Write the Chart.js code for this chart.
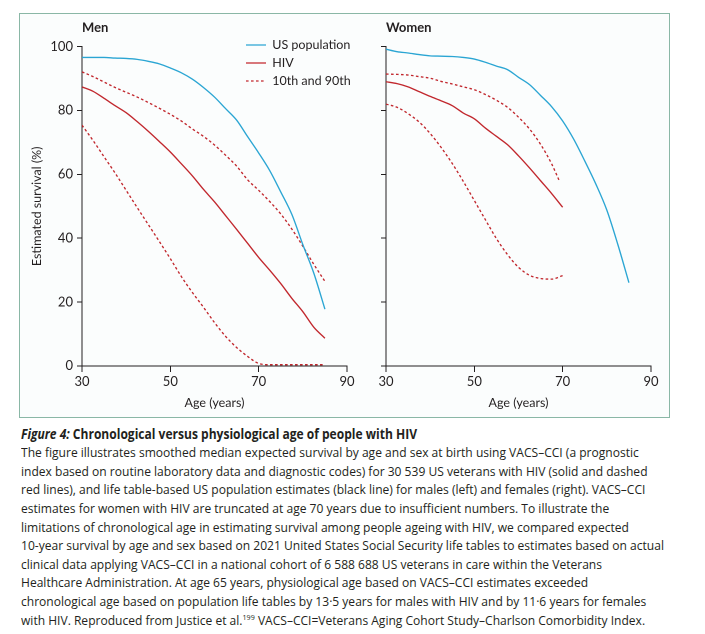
<!DOCTYPE html>
<html><head><meta charset="utf-8">
<script src="https://cdn.jsdelivr.net/npm/chart.js@4.4.1/dist/chart.umd.min.js"></script>
<style>
body{margin:0;background:#fff;width:705px;height:634px;overflow:hidden;position:relative;font-family:Lato,sans-serif;color:#231f20}
#box{position:absolute;left:19px;top:13px;width:651px;height:405px;border:1px solid #8ab7a6;background:#fbfdfd;box-sizing:border-box}
.pan{position:absolute;top:0;width:365px;height:416px}
#cap{position:absolute;left:21px;top:424.7px;font-size:13.5px;font-family:'Open Sans',sans-serif}
.ln{white-space:nowrap;height:18.6px;line-height:18.6px;transform-origin:0 50%}
.ln span{display:inline-block}
.t{font-weight:bold}
sup{font-size:8px;line-height:0;vertical-align:5px}
</style></head>
<body>
<div id="box"></div>
<div class="pan" style="left:0"><canvas id="men" width="365" height="416"></canvas></div>
<div class="pan" style="left:304px"><canvas id="women" width="365" height="416"></canvas></div>
<div id="cap">
<div class="ln t" id="lt"><span><i>Figure 4:</i> Chronological versus physiological age of people with HIV</span></div>
<div class="ln"><span>The figure illustrates smoothed median expected survival by age and sex at birth using VACS–CCI (a prognostic</span></div>
<div class="ln"><span>index based on routine laboratory data and diagnostic codes) for 30 539 US veterans with HIV (solid and dashed</span></div>
<div class="ln"><span>red lines), and life table-based US population estimates (black line) for males (left) and females (right). VACS–CCI</span></div>
<div class="ln"><span>estimates for women with HIV are truncated at age 70 years due to insufficient numbers. To illustrate the</span></div>
<div class="ln"><span>limitations of chronological age in estimating survival among people ageing with HIV, we compared expected</span></div>
<div class="ln" id="l7"><span>10-year survival by age and sex based on 2021 United States Social Security life tables to estimates based on actual</span></div>
<div class="ln"><span>clinical data applying VACS–CCI in a national cohort of 6 588 688 US veterans in care within the Veterans</span></div>
<div class="ln"><span>Healthcare Administration. At age 65 years, physiological age based on VACS–CCI estimates exceeded</span></div>
<div class="ln"><span>chronological age based on population life tables by 13·5 years for males with HIV and by 11·6 years for females</span></div>
<div class="ln"><span>with HIV. Reproduced from Justice et al.<sup>199</sup> VACS–CCI=Veterans Aging Cohort Study–Charlson Comorbidity Index.</span></div>
</div>
<script>
// ---- data ----
const agesMen = [30,32.5,35,37.5,40,42.5,45,47.5,50,52.5,55,57.5,60,62.5,65,67.5,70,72.5,75,77.5,80,82.5,85];
const menUS   = [96.6,96.6,96.6,96.4,96.3,96.0,95.4,94.6,93.3,91.8,89.8,87.2,84.2,80.6,77,71.8,66.7,61.2,54.5,47.5,38,29,17.8];
const menHIV  = [87.4,86.0,83.8,81.5,79.3,76.5,73.5,70.3,67,63.3,59.5,55.3,51.4,47.1,42.8,38.4,34,30,25.8,21.2,17,12.1,8.7];
const menP90  = [92.1,90.6,88.9,87.2,85.7,84.2,82.5,80.7,78.8,76.7,74.2,71.9,69.2,66,62.6,58.3,55,51.5,47.6,42.9,37.5,31.8,26.5];
const menP10  = [75.4,70.6,65.5,60.4,55,49.6,44.3,39,33.6,28,23,18.4,13.6,9.3,5.8,3,0.8,0.4,0.4,0.4,0.4,0.4,0.4];

const agesWomenUS  = [30,32.5,35,37.5,40,42.5,45,47.5,50,52.5,55,57.5,60,62.5,65,67.5,70,72.5,75,77.5,80,82.5,85];
const womenUS      = [99.2,98.4,98,97.5,97.1,97,96.9,96.6,96.1,95.1,93.9,92.8,90.4,88.1,84.7,81.2,76.7,71,64.2,57,48.8,38,26.1];
const agesWomenHIV = [30,32.5,35,37.5,40,42.5,45,47.5,50,52.5,55,57.5,60,62.5,65,67.5,70];
const womenHIV     = [89,88.4,87.4,85.9,84.4,83,81.5,79.2,77.4,74.5,71.9,69.3,65.8,62,58,54,49.7];
const agesWomenP90 = [30,32.5,35,37.5,40,42.5,45,47.5,50,52.5,55,57.5,60,62.5,65,67.5,69.2];
const womenP90     = [91.4,91.3,91.1,90.6,90.1,89.1,88.3,87.4,86.5,85,83.2,81,77.9,74.2,69.4,63.3,58.1];
const womenP10     = [82,81,79,76.4,72.8,68.4,63.4,57.8,51.8,45.8,39.9,34.9,30.9,28.4,27.4,27.2,28.3];

const xTicks = [30,50,70,90];
const yTicks = [0,20,40,60,80,100];
const seriesNames = ['US population','HIV','10th and 90th'];

// ---- style ----
const INK = '#231f20', BLUE = '#2aa5d3', RED = '#c1272d';
Chart.defaults.font.family = 'Lato, sans-serif';
Chart.defaults.color = INK;

function pts(xs, ys){ return xs.map((x,i)=>({x:x, y:ys[i]})); }
function ds(label, xs, ys, color, dashed){
  return { label, data: pts(xs, ys), borderColor: color, backgroundColor: color,
           borderWidth: 1.35, borderDash: dashed ? [2.6,2.4] : [], pointRadius: 0,
           cubicInterpolationMode: 'monotone', fill: false };
}

const LEG_PAD = 5.5;
const legendShift = { id:'legendShift', afterLayout(chart){
  const lg = chart.legend;
  if (!lg || !lg.options.display) return;
  lg.left = 246 - LEG_PAD; lg.top = 38.75 - LEG_PAD; lg.right = 365; lg.bottom = chart.chartArea.bottom;
  lg.width = lg.right - lg.left; lg.height = lg.bottom - lg.top;
}};

function legendLabels(chart){
  return Chart.defaults.plugins.legend.labels.generateLabels(chart)
    .filter(i => i.datasetIndex < 3)
    .map(i => { const d = chart.data.datasets[i.datasetIndex];
      return Object.assign(i, { lineDash: d.borderDash, strokeStyle: d.borderColor, lineWidth: d.borderWidth, fillStyle: d.borderColor }); });
}

function makeChart(id, title, datasets, left){
  return new Chart(document.getElementById(id), {
    type: 'line',
    data: { datasets },
    plugins: [legendShift],
    options: {
      responsive: false, animation: false, devicePixelRatio: 2,
      layout: { padding: { left: 0, right: 18, top: 0, bottom: 0 } },
      plugins: {
        tooltip: { enabled: false },
        title: { display: true, text: title, align: 'start', fullSize: false, color: INK,
                 font: { size: 13, weight: 'bold' }, padding: { top: 20, bottom: 11 } },
        legend: left ? {
          display: true, position: 'chartArea', align: 'start',
          labels: { usePointStyle: true, pointStyle: 'line', pointStyleWidth: 20, padding: LEG_PAD,
                    color: INK, font: { size: 12.5 }, generateLabels: legendLabels }
        } : { display: false }
      },
      scales: {
        x: { type: 'linear', min: 30, max: 90,
             afterBuildTicks: s => { s.ticks = xTicks.map(v => ({value: v})); },
             afterFit: s => { s.height = 50; },
             ticks: { font: { size: 13 }, padding: 2, color: INK, maxRotation: 0 },
             grid: { drawOnChartArea: false, drawTicks: true, tickLength: 6, color: INK },
             border: { display: true, color: INK, width: 1 },
             title: { display: true, text: 'Age (years)', color: INK, font: { size: 12.5 }, padding: { top: 0, bottom: 5.5 } } },
        y: { min: 0, max: 100,
             afterBuildTicks: s => { s.ticks = yTicks.map(v => ({value: v})); },
             afterFit: s => { s.width = 82; },
             ticks: { display: left, font: { size: 13 }, padding: 4, color: INK },
             grid: { drawOnChartArea: false, drawTicks: true, tickLength: 5, color: INK },
             border: { display: true, color: INK, width: 1 },
             title: { display: left, text: 'Estimated survival (%)', color: INK, font: { size: 12.5 }, padding: { top: 29.5, bottom: 0 } } }
      }
    }
  });
}

function fitCaption(){
  const l7 = document.querySelector('#l7 span');
  const s = 643 / l7.getBoundingClientRect().width;
  document.querySelectorAll('.ln').forEach(d => { if (d.id !== 'lt') d.style.transform = 'scaleX(' + s + ')'; });
  const lt = document.querySelector('#lt span');
  const st = 396 / lt.getBoundingClientRect().width;
  document.getElementById('lt').style.transform = 'scaleX(' + st + ')';
}

function draw(){
  fitCaption();
  makeChart('men', 'Men', [
    ds(seriesNames[0], agesMen, menUS, BLUE, false),
    ds(seriesNames[1], agesMen, menHIV, RED, false),
    ds(seriesNames[2], agesMen, menP90, RED, true),
    ds(seriesNames[2] + ' (10th)', agesMen, menP10, RED, true)
  ], true);
  makeChart('women', 'Women', [
    ds(seriesNames[0], agesWomenUS, womenUS, BLUE, false),
    ds(seriesNames[1], agesWomenHIV, womenHIV, RED, false),
    ds(seriesNames[2], agesWomenP90, womenP90, RED, true),
    ds(seriesNames[2] + ' (10th)', agesWomenHIV, womenP10, RED, true)
  ], false);
}
Promise.all([document.fonts.load('13px Lato'), document.fonts.load('bold 13px Lato'),
             document.fonts.load('13.5px "Open Sans"'), document.fonts.load('bold 13.5px "Open Sans"')]).then(draw, draw);
</script>
</body></html>
